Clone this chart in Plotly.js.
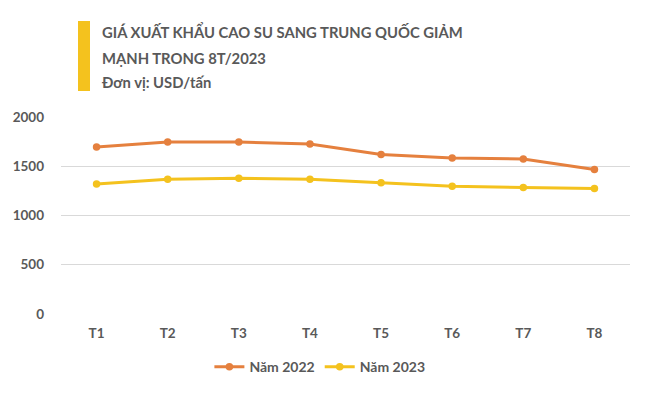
<!DOCTYPE html>
<html><head><meta charset="utf-8">
<script src="https://cdn.plot.ly/plotly-3.0.1.min.js"></script>
<style>html,body{margin:0;padding:0;background:#fff;}#chart{width:651px;height:403px;}</style>
</head><body><div id="chart"></div>
<script>
const months = ["T1","T2","T3","T4","T5","T6","T7","T8"];
const values2022 = [1695, 1745, 1745, 1725, 1620, 1585, 1573, 1468];
const values2023 = [1320, 1367, 1377, 1367, 1333, 1297, 1283, 1273];
const seriesNames = ["Năm 2022", "Năm 2023"];
const titleLines = ["GIÁ XUẤT KHẨU CAO SU SANG TRUNG QUỐC GIẢM", "MẠNH TRONG 8T/2023", "Đơn vị: USD/tấn"];
const yTicks = [0, 500, 1000, 1500, 2000];

const FONT = "Lato, 'Open Sans', sans-serif";
const GREY = "#595959";

const traces = [
  {x: months, y: values2022, name: seriesNames[0], type: "scatter", mode: "lines+markers",
   line: {color: "#E5803E", width: 3}, marker: {color: "#E5803E", size: 7.5}},
  {x: months, y: values2023, name: seriesNames[1], type: "scatter", mode: "lines+markers",
   line: {color: "#F4C21E", width: 3}, marker: {color: "#F4C21E", size: 7.5}}
];

const titleY = [32, 58, 82];
const annotations = titleLines.map((t, i) => ({
  text: "<b>" + t + "</b>", xref: "paper", yref: "paper", showarrow: false,
  x: (100 - 61) / 569, y: 1 + (117 - titleY[i]) / 197, xanchor: "left", yanchor: "middle",
  font: {family: FONT, size: 14.8, color: GREY}
}));

const layout = {
  width: 651, height: 403,
  margin: {l: 61, r: 21, t: 117, b: 89},
  paper_bgcolor: "#fff", plot_bgcolor: "#fff",
  showlegend: true,
  legend: {orientation: "h", x: 0.455, xanchor: "center", y: -0.27, yanchor: "middle",
           font: {family: FONT, size: 14, color: GREY, weight: 700}, itemwidth: 30, traceorder: "normal"},
  xaxis: {type: "category", range: [-0.5, 7.5], showgrid: false, zeroline: false, showline: false,
          ticks: "", tickfont: {family: FONT, size: 13.5, color: GREY, weight: 700}, ticklabelstandoff: 9},
  yaxis: {range: [0, 2000], tickvals: yTicks, showgrid: true, gridcolor: "#D9D9D9", gridwidth: 1,
          zeroline: false, showline: false, ticks: "", ticklabelstandoff: 16,
          tickfont: {family: FONT, size: 13.5, color: GREY, weight: 700}},
  shapes: [{type: "rect", xref: "paper", yref: "paper",
            x0: (78 - 61) / 569, x1: (90 - 61) / 569,
            y0: 1 + (117 - 91) / 197, y1: 1 + (117 - 21) / 197,
            fillcolor: "#F4C21E", line: {width: 0}}],
  annotations: annotations
};

Plotly.newPlot("chart", traces, layout, {displayModeBar: false, staticPlot: true});
</script></body></html>
